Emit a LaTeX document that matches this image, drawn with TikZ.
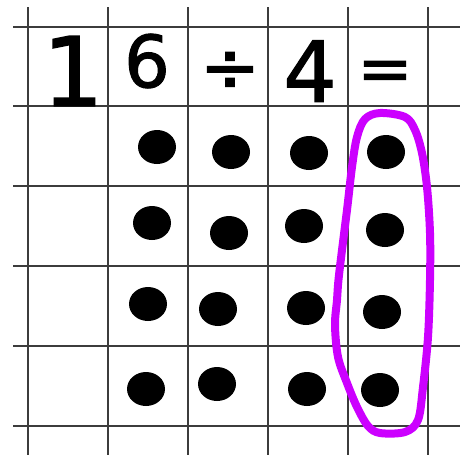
\documentclass[tikz,border=0pt]{standalone}
\usepackage{fontspec}
\setmainfont{DejaVu Sans}
\newfontfamily\handfont[FakeBold=1.5]{DejaVu Sans}
\usetikzlibrary{shapes.geometric}
\definecolor{gridc}{RGB}{60,60,60}
\definecolor{loopc}{RGB}{204,0,255}
\tikzset{
  gridline/.style={draw=gridc, line width=1.5pt},
  dot/.style={ellipse, fill=black, inner sep=0pt, minimum width=38pt, minimum height=34pt},
  glyph/.style={inner sep=0pt, anchor=center, text=black, font=\handfont},
  loopline/.style={draw=loopc, line width=8pt, line join=round},
}
\begin{document}
\begin{tikzpicture}[x=1pt,y=-1pt]
\fill[white] (0,0) rectangle (460,455);
\useasboundingbox (0,0) rectangle (460,455);
% grid
\foreach \gx in {28,108,188,268,348,428}{\draw[gridline] (\gx,7) -- (\gx,455);}
\foreach \gy in {27,106,186,266,346,426}{\draw[gridline] (13,\gy) -- (460,\gy);}
% equation text
\node[glyph] (one) at (73,71) {\fontsize{96}{96}\selectfont 1};
\node[glyph] (six) at (147,61) {\fontsize{72}{72}\selectfont 6};
\node[glyph] (div) at (230,72) {\fontsize{72}{72}\selectfont ÷};
\node[glyph] (four) at (310,71) {\fontsize{84}{84}\selectfont 4};
\node[glyph] (eq) at (385,76) {\fontsize{66}{66}\selectfont =};
% dots
\node[dot] (d11) at (157,147) {};
\node[dot] (d12) at (231,152) {};
\node[dot] (d13) at (309,153) {};
\node[dot] (d14) at (386,152) {};
\node[dot] (d21) at (152,223) {};
\node[dot] (d22) at (229,233) {};
\node[dot] (d23) at (304,226) {};
\node[dot] (d24) at (385,230) {};
\node[dot] (d31) at (148,304) {};
\node[dot] (d32) at (218,309) {};
\node[dot] (d33) at (306,308) {};
\node[dot] (d34) at (382,312) {};
\node[dot] (d41) at (146,389) {};
\node[dot] (d42) at (217,384) {};
\node[dot] (d43) at (307,389) {};
\node[dot] (d44) at (380,390) {};
% magenta loop
\draw[loopline] plot[smooth cycle, tension=0.55] coordinates {
  (380,113) (405,117) (415,130) (422,153) (427,187) (430,233) (430,280)
  (428,337) (423,387) (418,420) (405,432) (380,433) (368,426) (357,407)
  (347,383) (338,357) (335,325) (337,300) (339,275) (347,210) (352,167)
  (357,137) (365,119)};
\end{tikzpicture}
\end{document}
